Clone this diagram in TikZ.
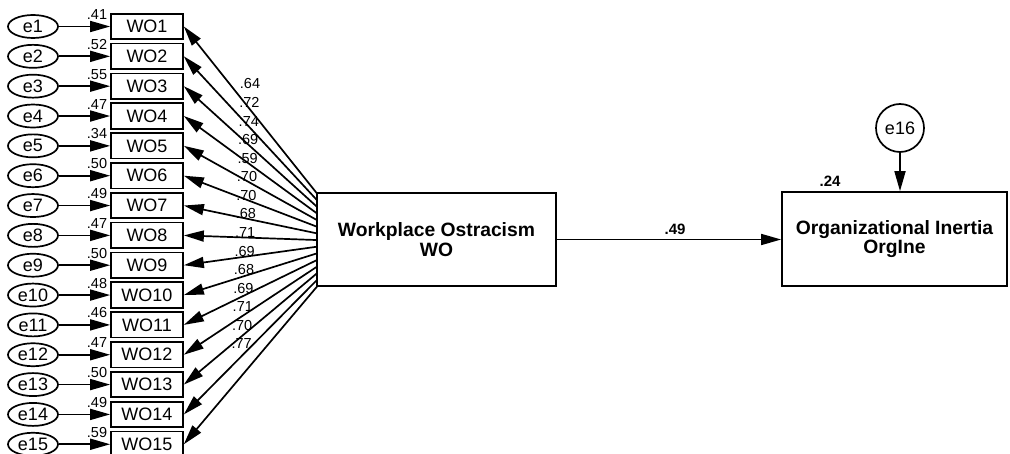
\documentclass[tikz,border=0pt]{standalone}
\usepackage{fontspec}
\setmainfont{Liberation Sans}
\usetikzlibrary{arrows.meta,shapes.geometric}
\begin{document}
\begin{tikzpicture}[x=1pt,y=-1pt,
  line width=1.7pt,
  arr/.style={-{Triangle[length=20pt,width=11pt]}},
  errnode/.style={draw,ellipse,minimum width=50pt,minimum height=23pt,inner sep=0pt,font=\fontsize{18}{18}\selectfont},
  obsnode/.style={draw,rectangle,minimum width=72pt,minimum height=25.5pt,inner sep=0pt,font=\fontsize{18}{18}\selectfont},
  latnode/.style={draw,rectangle,inner sep=0pt,align=center,font=\fontsize{19.3}{19.5}\selectfont\bfseries},
  lab/.style={inner sep=0pt,font=\fontsize{14.5}{14.5}\selectfont},
  blab/.style={inner sep=0pt,font=\fontsize{15}{15}\selectfont\bfseries}]
\useasboundingbox (0,0) rectangle (1010,454);
% latent boxes
\node[latnode,minimum width=239pt,minimum height=93pt] (wo) at (436.5,239.5) {Workplace Ostracism\\WO};
\node[latnode,minimum width=225pt,minimum height=94pt] (oi) at (894.5,239) {Organizational Inertia\\OrgIne};
\node[draw,circle,minimum size=48pt,inner sep=0pt,font=\fontsize{18}{18}\selectfont] (e16) at (900,128) {e16};
\draw[arr] (e16) -- (oi.north -| e16);
\node[blab] (r24) at (830,181) {.24};
\draw[arr] (wo.east) -- (oi.west |- wo.east);
\node[blab] (p49) at (675,229) {.49};
% indicators
\foreach \i/\r/\l in {1/.41/.64,2/.52/.72,3/.55/.74,4/.47/.69,5/.34/.59,6/.50/.70,7/.49/.70,8/.47/.68,9/.50/.71,10/.48/.69,11/.46/.68,12/.47/.69,13/.50/.71,14/.49/.70,15/.59/.77}{
  \pgfmathsetmacro{\yy}{26.5+(\i-1)*29.84}
  \pgfmathsetmacro{\ys}{193.5+(\i-1)*6.65}
  \pgfmathsetmacro{\yl}{84+(\i-1)*18.57}
  \pgfmathsetmacro{\xl}{250-(\i-1)*0.6}
  \node[errnode] (e\i) at (33,\yy) {e\i};
  \node[obsnode] (w\i) at (147,\yy) {WO\i};
  \coordinate (s\i) at (317,\ys);
  \draw[arr] (e\i) -- (w\i);
  \node[lab] (r\i) at (97,\yy-12) {\r};
  \draw[arr] (s\i) -- (w\i.east);
  \node[lab] (l\i) at (\xl,\yl) {\l};
}
\end{tikzpicture}
\end{document}
